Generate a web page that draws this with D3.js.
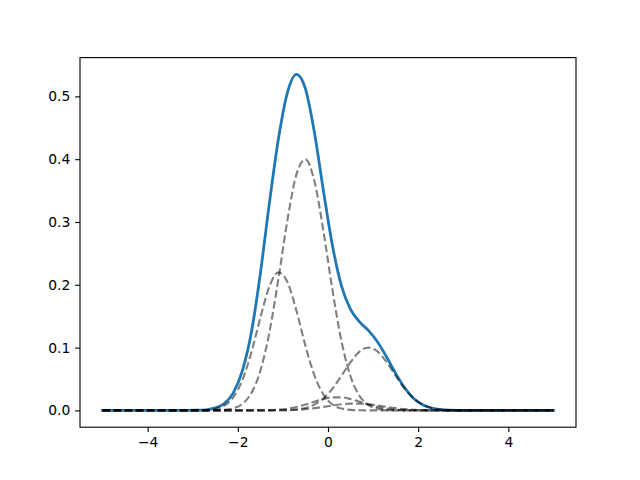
<!DOCTYPE html>
<html>
<head>
<meta charset="utf-8">
<script src="https://cdn.jsdelivr.net/npm/d3@7"></script>
<style>
  body { margin: 0; background: #fff; }
  svg { display: block; font-family: "DejaVu Sans", sans-serif; }
</style>
</head>
<body>
<div id="chart"></div>
<script>
// sample positions along x
const xs = [-5, -4, -3.1, -2.9, -2.7, -2.5, -2.3, -2.1, -1.9, -1.7, -1.5, -1.3, -1.1, -0.9,
  -0.7, -0.5, -0.3, -0.1, 0.1, 0.3, 0.5, 0.7, 0.9, 1.1, 1.3, 1.5, 1.7, 1.9, 2.1, 2.3, 2.5,
  2.7, 2.9, 3.1, 4, 5];

// mixture density (blue line)
const total = [0, 0, 0.0001, 0.0003, 0.001, 0.004, 0.011, 0.028, 0.063, 0.124, 0.218, 0.330,
  0.432, 0.506, 0.535, 0.512, 0.442, 0.349, 0.262, 0.198, 0.161, 0.141, 0.127, 0.109, 0.085,
  0.059, 0.036, 0.019, 0.009, 0.0038, 0.0014, 0.0004, 0.0001, 0, 0, 0];

// weighted components (dashed lines)
const compA = [0, 0, 0, 0.0001, 0.0006, 0.0023, 0.0076, 0.0209, 0.0480, 0.0922, 0.1476, 0.1972,
  0.2198, 0.2044, 0.1587, 0.1027, 0.0555, 0.0250, 0.0094, 0.0030, 0.0008, 0.0002,
  0, 0, 0, 0, 0, 0, 0, 0, 0, 0, 0, 0, 0, 0];
const compB = [0, 0, 0, 0, 0, 0.0002, 0.0009, 0.0033, 0.0103, 0.0275, 0.0631, 0.1242,
  0.2095, 0.3030, 0.3758, 0.3997, 0.3645, 0.2850, 0.1910, 0.1098, 0.0541, 0.0229, 0.0083,
  0.0026, 0.0007, 0.0002, 0, 0, 0, 0, 0, 0, 0, 0, 0, 0];
const compC = [0, 0, 0, 0, 0, 0, 0, 0, 0, 0, 0, 0,
  0.0001, 0.0005, 0.0015, 0.0039, 0.0093, 0.0192, 0.0347, 0.0552, 0.0768, 0.0936, 0.1000,
  0.0936, 0.0768, 0.0552, 0.0347, 0.0192, 0.0093, 0.0039, 0.0015, 0.0005, 0.0001, 0, 0, 0];
const compD = [0, 0, 0, 0, 0, 0, 0, 0, 0,
  0.0001, 0.0002, 0.0005, 0.0013, 0.0028, 0.0055, 0.0093, 0.0139, 0.0181, 0.0207, 0.0207,
  0.0181, 0.0139, 0.0093, 0.0055, 0.0028, 0.0013, 0.0005, 0.0002, 0.0001,
  0, 0, 0, 0, 0, 0, 0];
const compE = [0, 0, 0, 0, 0, 0, 0, 0, 0, 0, 0,
  0.0001, 0.0002, 0.0005, 0.0011, 0.0020, 0.0036, 0.0056, 0.0078, 0.0097, 0.0108, 0.0108,
  0.0097, 0.0078, 0.0056, 0.0036, 0.0020, 0.0011, 0.0005, 0.0002, 0.0001,
  0, 0, 0, 0, 0];
const components = [compA, compB, compC, compD, compE];

const xTicks = [-4, -2, 0, 2, 4];
const yTicks = [0, 0.1, 0.2, 0.3, 0.4, 0.5];

const width = 640, height = 480;
const margin = {top: 57.6, right: 64, bottom: 52.8, left: 80};
const pt = 100 / 72;

const svg = d3.select('#chart')
  .append('svg')
  .attr('width', width)
  .attr('height', height);

// matplotlib style 5% padding
const xExt = d3.extent(xs);
const xPad = (xExt[1] - xExt[0]) * 0.05;
const x = d3.scaleLinear()
  .domain([xExt[0] - xPad, xExt[1] + xPad])
  .range([margin.left, width - margin.right]);

const yMax = d3.max(total);
const yPad = yMax * 0.05;
const y = d3.scaleLinear()
  .domain([-yPad, yMax + yPad])
  .range([height - margin.bottom, margin.top]);

const line = d3.line()
  .x((d, i) => x(xs[i]))
  .y(d => y(d))
  .curve(d3.curveMonotoneX);

svg.append('path')
  .datum(total)
  .attr('fill', 'none')
  .attr('stroke', '#1f77b4')
  .attr('stroke-width', 2 * pt)
  .attr('stroke-linejoin', 'round')
  .attr('stroke-linecap', 'square')
  .attr('d', line);

svg.append('g')
  .selectAll('path')
  .data(components)
  .enter()
  .append('path')
  .attr('fill', 'none')
  .attr('stroke', '#000')
  .attr('stroke-opacity', 0.5)
  .attr('stroke-width', 1.5 * pt)
  .attr('stroke-dasharray', `${3.7 * 1.5 * pt},${1.6 * 1.5 * pt}`)
  .attr('d', line);

// axes
const xAxis = svg.append('g')
  .attr('transform', `translate(0,${height - margin.bottom})`)
  .call(d3.axisBottom(x)
    .tickValues(xTicks)
    .tickFormat(d3.format('d'))
    .tickSize(3.5 * pt)
    .tickPadding(3.5 * pt)
    .tickSizeOuter(0));

const yAxis = svg.append('g')
  .attr('transform', `translate(${margin.left},0)`)
  .call(d3.axisLeft(y)
    .tickValues(yTicks)
    .tickFormat(d3.format('.1f'))
    .tickSize(3.5 * pt)
    .tickPadding(3.5 * pt)
    .tickSizeOuter(0));

[xAxis, yAxis].forEach(g => {
  g.select('.domain').remove();
  g.attr('font-family', '"DejaVu Sans", sans-serif').attr('font-size', 10 * pt);
  g.selectAll('.tick line').attr('stroke-width', 0.8 * pt);
  g.selectAll('.tick text').attr('fill', '#000');
});

// frame
svg.append('rect')
  .attr('x', margin.left)
  .attr('y', margin.top)
  .attr('width', width - margin.left - margin.right)
  .attr('height', height - margin.top - margin.bottom)
  .attr('fill', 'none')
  .attr('stroke', '#000')
  .attr('stroke-width', 0.8 * pt);
</script>
</body>
</html>
